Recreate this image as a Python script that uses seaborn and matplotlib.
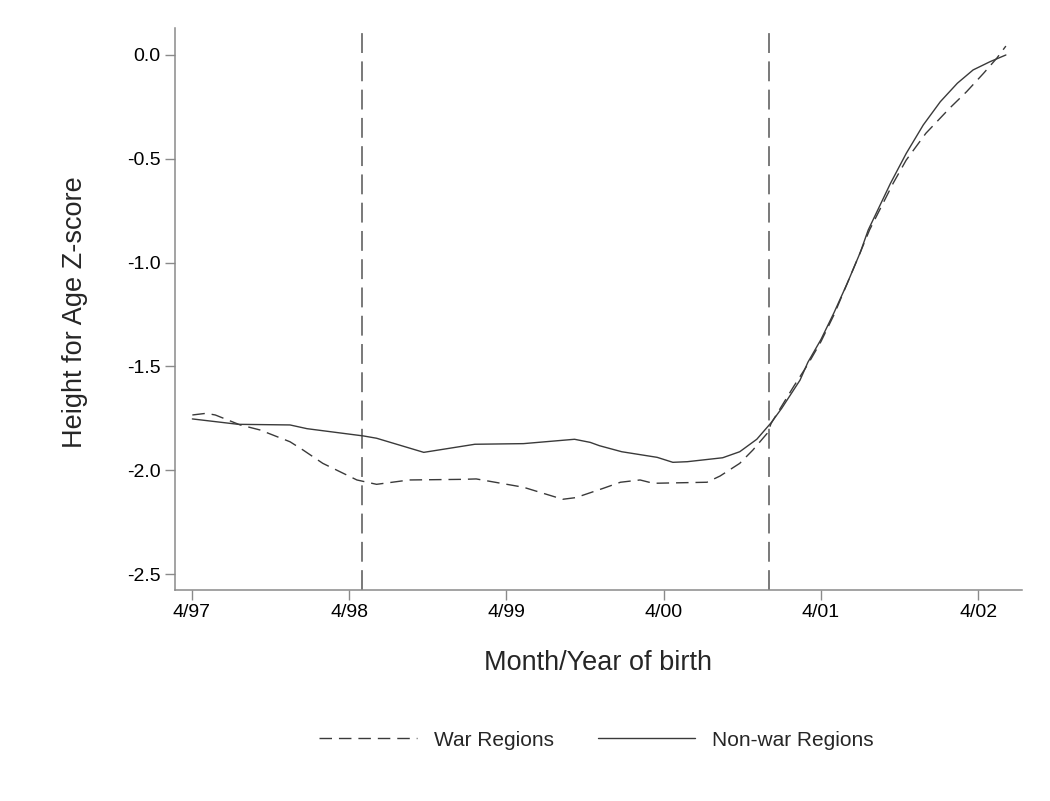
import numpy as np
import pandas as pd
import matplotlib
matplotlib.use("Agg")
import matplotlib.pyplot as plt
import seaborn as sns
from matplotlib.lines import Line2D

# ---- data (x = months since April 1997) ----
war_month = [0.05, 1.1, 1.8, 3.7, 5.2, 7.5, 8.5, 10.0, 12.6, 14.1, 16.6, 20.7, 21.7,
             25.3, 28.3, 29.3, 31.4, 32.7, 34.2, 35.2, 39.3, 40.3, 41.8, 42.8, 43.9,
             44.2, 45.9, 47.0, 48.0, 49.0, 50.0, 51.0, 51.7, 53.5, 54.5, 56.0, 57.8,
             59.1, 60.4, 61.4, 62.1]
war_z = [-1.734, -1.726, -1.734, -1.782, -1.806, -1.863, -1.903, -1.967, -2.047, -2.068,
         -2.047, -2.044, -2.042, -2.082, -2.140, -2.132, -2.087, -2.058, -2.047, -2.063,
         -2.058, -2.028, -1.967, -1.903, -1.822, -1.774, -1.598, -1.49, -1.38, -1.25,
         -1.10, -0.95, -0.843, -0.618, -0.506, -0.377, -0.257, -0.177, -0.088, -0.016, 0.043]

nonwar_month = [0.05, 3.55, 7.5, 8.8, 13.1, 14.1, 17.7, 21.6, 25.3, 29.2, 30.4, 31.1,
                32.8, 35.5, 36.7, 37.8, 40.5, 41.8, 43.1, 44.2, 45.0, 46.4, 47.0, 48.0,
                49.0, 50.0, 51.0, 51.6, 53.3, 54.5, 55.8, 57.1, 58.4, 59.6, 60.9, 62.1]
nonwar_z = [-1.753, -1.779, -1.782, -1.800, -1.835, -1.846, -1.914, -1.875, -1.872, -1.851,
            -1.866, -1.882, -1.911, -1.938, -1.962, -1.959, -1.940, -1.911, -1.851, -1.771,
            -1.702, -1.566, -1.48, -1.37, -1.24, -1.10, -0.95, -0.843, -0.618, -0.474,
            -0.337, -0.225, -0.136, -0.072, -0.032, 0.0]

series_names = ["War Regions", "Non-war Regions"]
tick_months = [0, 12, 24, 36, 48, 60]
tick_labels = ["4/97", "4/98", "4/99", "4/00", "4/01", "4/02"]
ytick_vals = [0.0, -0.5, -1.0, -1.5, -2.0, -2.5]
ytick_labels = ["0.0", "-0.5", "-1.0", "-1.5", "-2.0", "-2.5"]
event_months = [13, 44]

df = pd.concat([
    pd.DataFrame({"month": war_month, "z": war_z, "group": series_names[0]}),
    pd.DataFrame({"month": nonwar_month, "z": nonwar_z, "group": series_names[1]}),
], ignore_index=True)

sns.set_style("white")
plt.rcParams["font.family"] = ["Liberation Sans", "DejaVu Sans"]

fig = plt.figure(figsize=(10.5, 8.01), dpi=100)
ax = fig.add_axes([175 / 1050, 1 - 590 / 801, (1022 - 175) / 1050, (590 - 28) / 801])

line_color = "#3a3a3a"
sns.lineplot(data=df, x="month", y="z", style="group", hue="group",
             palette={series_names[0]: line_color, series_names[1]: line_color},
             dashes={series_names[0]: (9, 5), series_names[1]: ""},
             linewidth=1.0, sort=False, estimator=None, ax=ax, legend=False)

for m in event_months:
    ax.axvline(m, color="#555555", lw=1.1, dashes=(13, 5.5), zorder=1)

ax.set_xlim(-1.274, 63.33)
ax.set_ylim(-2.577, 0.130)
ax.set_xticks(tick_months)
ax.set_xticklabels(tick_labels)
ax.set_yticks(ytick_vals)
ax.set_yticklabels(ytick_labels)

for s in ["top", "right"]:
    ax.spines[s].set_visible(False)
for s in ["left", "bottom"]:
    ax.spines[s].set_color("#8a8a8a")
    ax.spines[s].set_linewidth(1.1)

ax.tick_params(axis="both", direction="out", length=7.2, width=1.0, color="#8a8a8a",
               labelsize=14, labelcolor="black", pad=3, left=True, bottom=True)

ax.set_xlabel("Month/Year of birth", fontsize=19.5, va="center")
ax.set_ylabel("Height for Age Z-score", fontsize=19.5, va="center")
ax.xaxis.set_label_coords(0.5, -0.130)
ax.yaxis.set_label_coords(-0.118, 0.495)

handles = [Line2D([], [], color=line_color, lw=1.0, dashes=(9, 5)),
           Line2D([], [], color=line_color, lw=1.0)]
fig.legend(handles, series_names, loc="center", bbox_to_anchor=(596.5 / 1050, 1 - 740 / 801),
           ncol=2, frameon=False, fontsize=15, handlelength=4.7, handletextpad=0.8,
           columnspacing=2.1)

fig.savefig("out.png", dpi=100, facecolor="white")
